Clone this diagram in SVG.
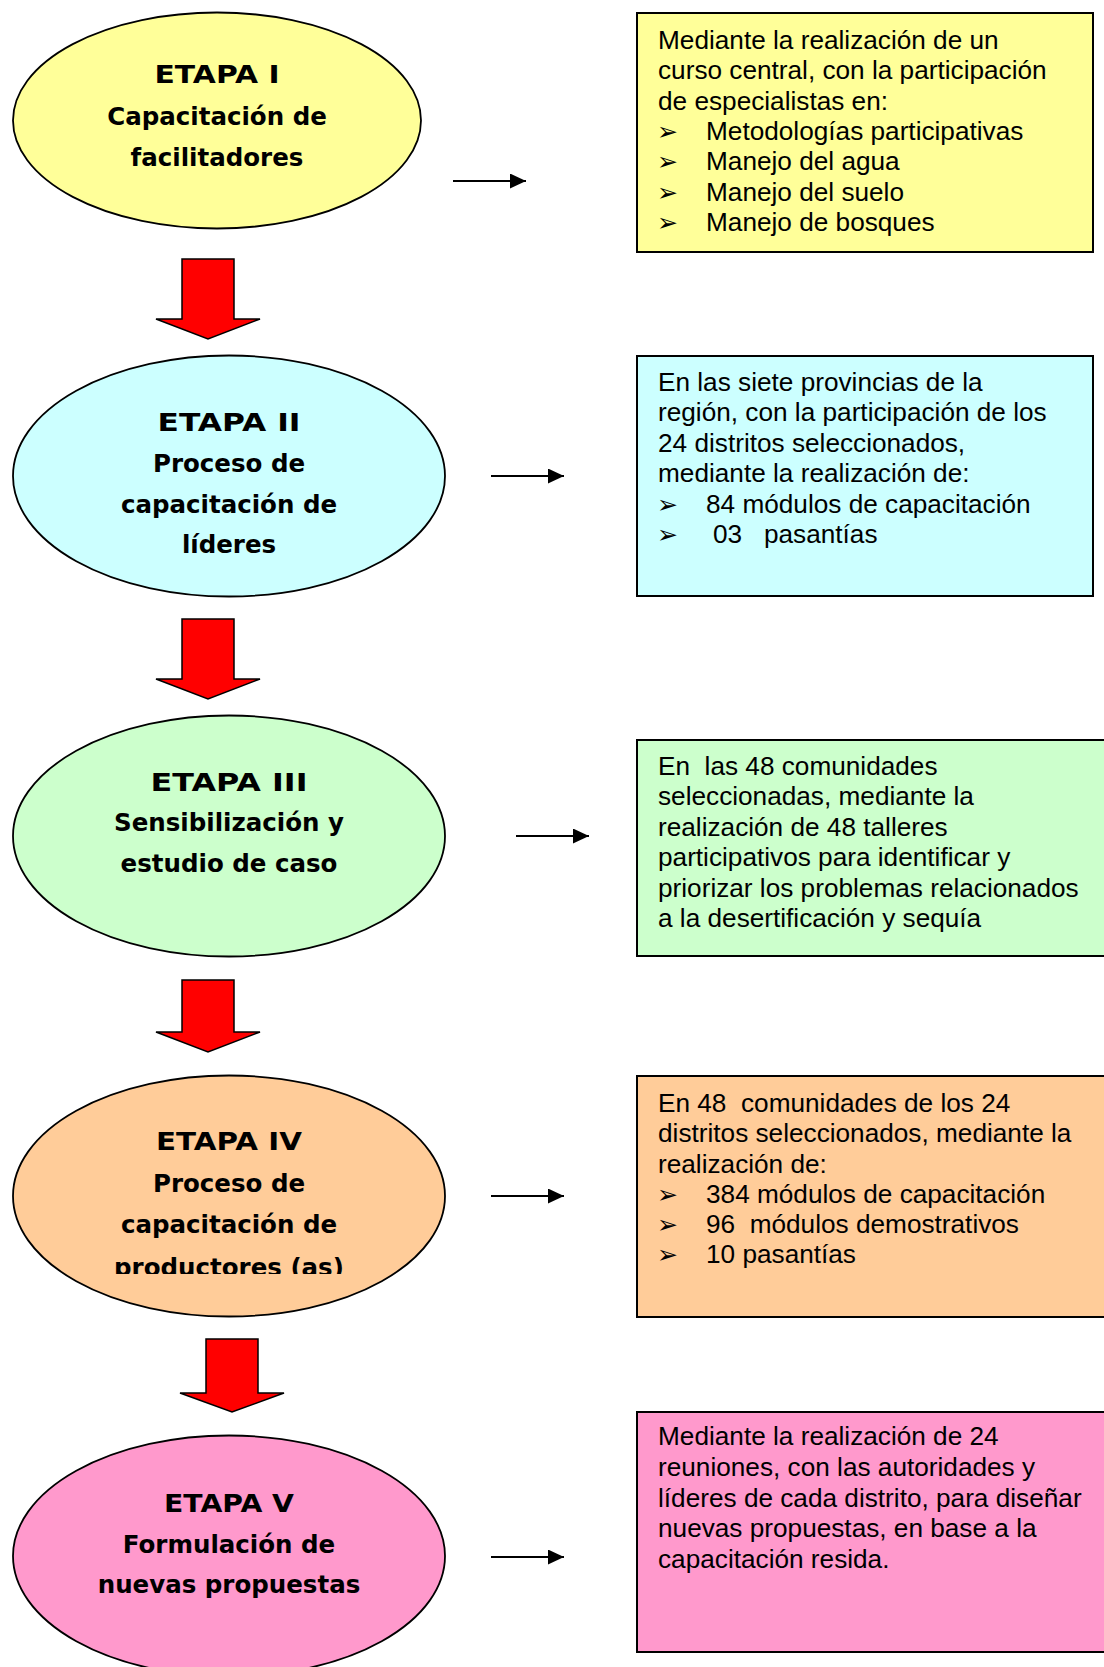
<svg xmlns="http://www.w3.org/2000/svg" width="1104" height="1667" viewBox="0 0 1104 1667">
<defs>
<style>
.stage{stroke:#000;stroke-width:1.8}
.box{stroke:#000;stroke-width:2}
.et{font-family:"DejaVu Sans","Liberation Sans",sans-serif;font-weight:bold;font-size:24.5px;text-anchor:middle;fill:#000}
.bt{font-family:"Liberation Sans",Arial,sans-serif;font-size:26.2px;fill:#000;white-space:pre}
.bul{font-family:"DejaVu Sans",sans-serif;font-size:25px;fill:#000}
.down{fill:#FF0000;stroke:#000;stroke-width:1.5}
.link{stroke:#000;stroke-width:2;fill:none}
</style>
<marker id="ah" viewBox="0 0 16 15" refX="16" refY="7.5" markerWidth="16" markerHeight="15" markerUnits="userSpaceOnUse" orient="auto">
<path d="M0,0 L16,7.5 L0,15 Z" fill="#000"/>
</marker>
<clipPath id="clip4"><rect x="0" y="1040" width="460" height="234"/></clipPath>
</defs>
<rect width="1104" height="1667" fill="#fff"/>

<g id="connectors">
<path class="down" d="M182,259 H234 V319 H260 L208,339 L156,319 H182 Z"/>
<path class="down" d="M182,619 H234 V679 H260 L208,699 L156,679 H182 Z"/>
<path class="down" d="M182,980 H234 V1032 H260 L208,1052 L156,1032 H182 Z"/>
<path class="down" d="M206,1339 H258 V1393 H284 L232,1412 L180,1393 H206 Z"/>
<line class="link" x1="453" y1="181" x2="526" y2="181" marker-end="url(#ah)"/>
<line class="link" x1="491" y1="476" x2="564" y2="476" marker-end="url(#ah)"/>
<line class="link" x1="516" y1="836" x2="589" y2="836" marker-end="url(#ah)"/>
<line class="link" x1="491" y1="1196" x2="564" y2="1196" marker-end="url(#ah)"/>
<line class="link" x1="491" y1="1557" x2="564" y2="1557" marker-end="url(#ah)"/>
</g>

<g id="etapa1">
<ellipse class="stage" cx="217" cy="120.5" rx="204" ry="108" fill="#FFFF99"/>
<text class="et" x="217" y="83" textLength="125" lengthAdjust="spacingAndGlyphs">ETAPA I</text>
<text class="et" x="217" y="125">Capacitación de</text>
<text class="et" x="217" y="166">facilitadores</text>
</g>

<g id="etapa2">
<ellipse class="stage" cx="229" cy="476" rx="216" ry="120.5" fill="#CCFFFF"/>
<text class="et" x="229" y="431" textLength="143" lengthAdjust="spacingAndGlyphs">ETAPA II</text>
<text class="et" x="229" y="472">Proceso de</text>
<text class="et" x="229" y="513">capacitación de</text>
<text class="et" x="229" y="553">líderes</text>
</g>

<g id="etapa3">
<ellipse class="stage" cx="229" cy="836" rx="216" ry="120.5" fill="#CCFFCC"/>
<text class="et" x="229" y="791" textLength="157" lengthAdjust="spacingAndGlyphs">ETAPA III</text>
<text class="et" x="229" y="831">Sensibilización y</text>
<text class="et" x="229" y="872">estudio de caso</text>
</g>

<g id="etapa4">
<ellipse class="stage" cx="229" cy="1196" rx="216" ry="120.5" fill="#FFCC99"/>
<text class="et" x="229" y="1150" textLength="146" lengthAdjust="spacingAndGlyphs">ETAPA IV</text>
<text class="et" x="229" y="1192">Proceso de</text>
<text class="et" x="229" y="1233">capacitación de</text>
<text class="et" x="229" y="1276" clip-path="url(#clip4)">productores (as)</text>
</g>

<g id="etapa5">
<ellipse class="stage" cx="229" cy="1556" rx="216" ry="120.5" fill="#FF99CC"/>
<text class="et" x="229" y="1512" textLength="130" lengthAdjust="spacingAndGlyphs">ETAPA V</text>
<text class="et" x="229" y="1553">Formulación de</text>
<text class="et" x="229" y="1593">nuevas propuestas</text>
</g>

<g id="detalle1">
<rect class="box" x="637" y="13" width="456" height="239" fill="#FFFF99"/>
<text class="bt" x="658" y="49">Mediante la realización de un</text>
<text class="bt" x="658" y="79">curso central, con la participación</text>
<text class="bt" x="658" y="110">de especialistas en:</text>
<text class="bul" x="657" y="140">➢</text><text class="bt" x="706" y="140">Metodologías participativas</text>
<text class="bul" x="657" y="170">➢</text><text class="bt" x="706" y="170">Manejo del agua</text>
<text class="bul" x="657" y="201">➢</text><text class="bt" x="706" y="201">Manejo del suelo</text>
<text class="bul" x="657" y="231">➢</text><text class="bt" x="706" y="231">Manejo de bosques</text>
</g>

<g id="detalle2">
<rect class="box" x="637" y="356" width="456" height="240" fill="#CCFFFF"/>
<text class="bt" x="658" y="391">En las siete provincias de la</text>
<text class="bt" x="658" y="421">región, con la participación de los</text>
<text class="bt" x="658" y="452">24 distritos seleccionados,</text>
<text class="bt" x="658" y="482">mediante la realización de:</text>
<text class="bul" x="657" y="513">➢</text><text class="bt" x="706" y="513">84 módulos de capacitación</text>
<text class="bul" x="657" y="543">➢</text><text class="bt" x="713" y="543">03   pasantías</text>
</g>

<g id="detalle3">
<rect class="box" x="637" y="740" width="480" height="216" fill="#CCFFCC"/>
<text class="bt" x="658" y="775">En  las 48 comunidades</text>
<text class="bt" x="658" y="805">seleccionadas, mediante la</text>
<text class="bt" x="658" y="836">realización de 48 talleres</text>
<text class="bt" x="658" y="866">participativos para identificar y</text>
<text class="bt" x="658" y="897">priorizar los problemas relacionados</text>
<text class="bt" x="658" y="927">a la desertificación y sequía</text>
</g>

<g id="detalle4">
<rect class="box" x="637" y="1076" width="480" height="241" fill="#FFCC99"/>
<text class="bt" x="658" y="1112">En 48  comunidades de los 24</text>
<text class="bt" x="658" y="1142">distritos seleccionados, mediante la</text>
<text class="bt" x="658" y="1173">realización de:</text>
<text class="bul" x="657" y="1203">➢</text><text class="bt" x="706" y="1203">384 módulos de capacitación</text>
<text class="bul" x="657" y="1233">➢</text><text class="bt" x="706" y="1233">96  módulos demostrativos</text>
<text class="bul" x="657" y="1263">➢</text><text class="bt" x="706" y="1263">10 pasantías</text>
</g>

<g id="detalle5">
<rect class="box" x="637" y="1412" width="480" height="240" fill="#FF99CC"/>
<text class="bt" x="658" y="1445">Mediante la realización de 24</text>
<text class="bt" x="658" y="1476">reuniones, con las autoridades y</text>
<text class="bt" x="658" y="1507">líderes de cada distrito, para diseñar</text>
<text class="bt" x="658" y="1537">nuevas propuestas, en base a la</text>
<text class="bt" x="658" y="1568">capacitación resida.</text>
</g>
</svg>
